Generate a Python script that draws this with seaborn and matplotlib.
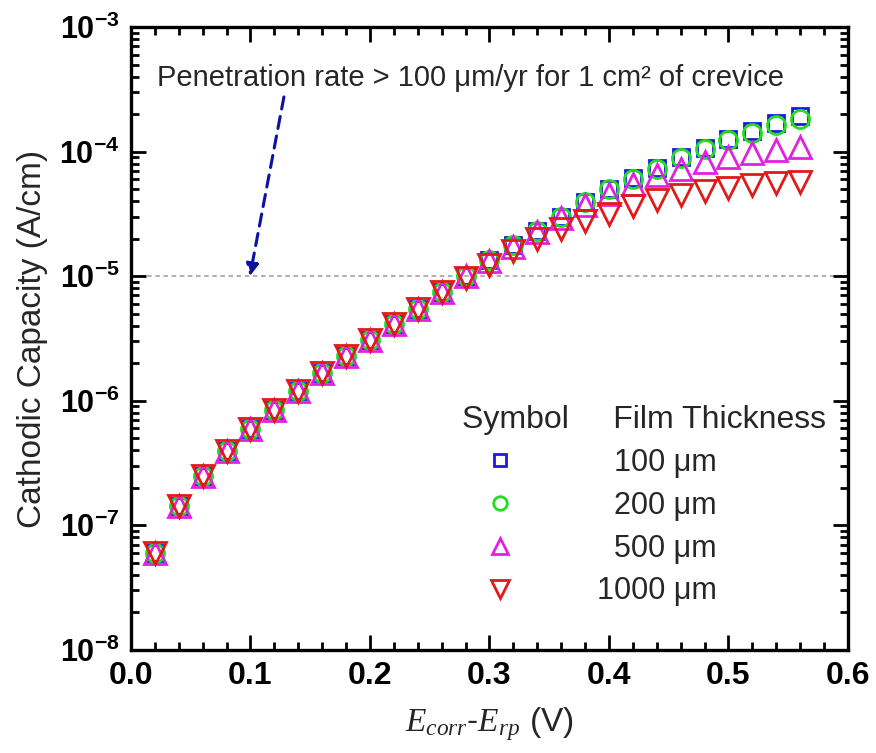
import math
import seaborn as sns
import matplotlib.pyplot as plt
from matplotlib import font_manager
from matplotlib.ticker import MultipleLocator, LogLocator, FuncFormatter, NullFormatter

# E_corr - E_rp (V)
potential = [0.02, 0.04, 0.06, 0.08, 0.10, 0.12, 0.14, 0.16, 0.18, 0.20,
             0.22, 0.24, 0.26, 0.28, 0.30, 0.32, 0.34, 0.36, 0.38, 0.40,
             0.42, 0.44, 0.46, 0.48, 0.50, 0.52, 0.54, 0.56]

# cathodic capacity (A/cm)
cap_100 = [6.0e-8, 1.42e-7, 2.47e-7, 3.98e-7, 5.9e-7, 8.5e-7, 1.2e-6, 1.66e-6,
           2.28e-6, 3.06e-6, 4.12e-6, 5.5e-6, 7.4e-6, 1.0e-5, 1.34e-5, 1.77e-5,
           2.3e-5, 3.0e-5, 3.95e-5, 5.05e-5, 6.1e-5, 7.4e-5, 9.0e-5, 1.07e-4,
           1.26e-4, 1.46e-4, 1.69e-4, 1.93e-4]
cap_200 = [6.0e-8, 1.42e-7, 2.47e-7, 3.98e-7, 5.9e-7, 8.5e-7, 1.2e-6, 1.66e-6,
           2.28e-6, 3.06e-6, 4.12e-6, 5.5e-6, 7.4e-6, 1.0e-5, 1.34e-5, 1.77e-5,
           2.3e-5, 3.0e-5, 3.95e-5, 5.0e-5, 6.05e-5, 7.3e-5, 8.85e-5, 1.05e-4,
           1.23e-4, 1.42e-4, 1.63e-4, 1.82e-4]
cap_500 = [6.0e-8, 1.42e-7, 2.47e-7, 3.98e-7, 5.9e-7, 8.5e-7, 1.2e-6, 1.66e-6,
           2.28e-6, 3.06e-6, 4.12e-6, 5.5e-6, 7.4e-6, 1.0e-5, 1.32e-5, 1.72e-5,
           2.25e-5, 2.95e-5, 3.71e-5, 4.6e-5, 5.55e-5, 6.45e-5, 7.3e-5, 8.27e-5,
           9.05e-5, 9.75e-5, 1.04e-4, 1.09e-4]
cap_1000 = [6.0e-8, 1.42e-7, 2.47e-7, 3.98e-7, 5.9e-7, 8.5e-7, 1.2e-6, 1.66e-6,
            2.28e-6, 3.06e-6, 4.12e-6, 5.5e-6, 7.4e-6, 9.6e-6, 1.22e-5, 1.6e-5,
            2.0e-5, 2.4e-5, 2.75e-5, 3.18e-5, 3.65e-5, 4.07e-5, 4.46e-5, 4.8e-5,
            5.15e-5, 5.37e-5, 5.6e-5, 5.75e-5]

labels = ['\u2007100 \u03bcm', '\u2007200 \u03bcm', '\u2007500 \u03bcm', '1000 \u03bcm']
series = [cap_100, cap_200, cap_500, cap_1000]
markers = ['s', 'o', '^', 'v']
sizes = [12, 13, 16, 16.5]
colors = ['#1a1ae0', '#22dd22', '#e022e0', '#e01a1a']

sns.set_style('ticks')
installed = {f.name for f in font_manager.fontManager.ttflist}
narrow = 'Liberation Sans Narrow' if 'Liberation Sans Narrow' in installed else 'Liberation Sans'
plt.rcParams['font.family'] = ['Liberation Sans', 'DejaVu Sans']
plt.rcParams['mathtext.fontset'] = 'custom'
plt.rcParams['mathtext.bf'] = 'Liberation Sans:bold'
plt.rcParams['mathtext.it'] = 'Liberation Serif:italic'
plt.rcParams['mathtext.rm'] = 'Liberation Serif'

fig = plt.figure(figsize=(8.76, 7.53), dpi=100)
ax = fig.add_axes([0.1495, 0.137, 0.8185, 0.827])

for vals, lab, mk, ms, c in zip(series, labels, markers, sizes, colors):
    sns.lineplot(x=potential, y=vals, ax=ax, linestyle='', marker=mk,
                 markersize=ms, markerfacecolor='none', markeredgecolor=c,
                 markeredgewidth=2.0, color=c, label=lab)

ax.set_yscale('log')
ax.set_xlim(0, 0.6)
ax.set_ylim(1e-8, 1e-3)

# 10 uA/cm threshold
ax.axhline(1e-5, color='#aaaaaa', linestyle=(0, (2.5, 2)), linewidth=1.3, zorder=0)
ax.text(0.0215, 3.9e-4, 'Penetration rate > 100 \u03bcm/yr for 1 cm\u00b2 of crevice',
        fontsize=21, va='center', ha='left')
ax.annotate('', xy=(0.0995, 1.0e-5), xytext=(0.128, 2.75e-4),
            arrowprops=dict(arrowstyle='-|>', color='#0a14a0', lw=2.2,
                            linestyle=(0, (4, 2.5)), mutation_scale=18,
                            shrinkA=0, shrinkB=0))

ax.xaxis.set_major_locator(MultipleLocator(0.1))
ax.xaxis.set_minor_locator(MultipleLocator(0.02))
ax.xaxis.set_major_formatter(FuncFormatter(lambda v, p: f'{v:.1f}'))
ax.yaxis.set_major_locator(LogLocator(base=10, numticks=10))
ax.yaxis.set_minor_locator(LogLocator(base=10, subs=range(2, 10), numticks=20))
ax.yaxis.set_minor_formatter(NullFormatter())
ax.yaxis.set_major_formatter(FuncFormatter(
    lambda v, p: r'$\mathbf{10^{%d}}$' % round(math.log10(v))))

ax.tick_params(which='both', direction='in', top=True, right=True, width=2, colors='black')
ax.tick_params(which='major', length=11, pad=8)
ax.tick_params(which='minor', length=6)
ax.tick_params(axis='y', which='major', labelsize=22)
for t in ax.get_xticklabels():
    t.set_fontfamily(narrow)
    t.set_fontweight('bold')
    t.set_fontsize(23)
for s in ax.spines.values():
    s.set_linewidth(2.4)
    s.set_color('black')

ax.set_ylabel('Cathodic Capacity (A/cm)', fontsize=24, labelpad=8)
ax.set_xlabel(r'$E_{corr}$-$E_{rp}$ (V)', fontsize=24, labelpad=10)

leg = ax.legend(loc='upper left', bbox_to_anchor=(0.461, 0.393), frameon=False,
                title='Symbol     Film Thickness', alignment='left',
                fontsize=22, title_fontsize=23, handlelength=2.55,
                handletextpad=1.9, labelspacing=0.42, markerscale=0.75,
                borderpad=0, borderaxespad=0)

plt.savefig('out.png', dpi=100)
